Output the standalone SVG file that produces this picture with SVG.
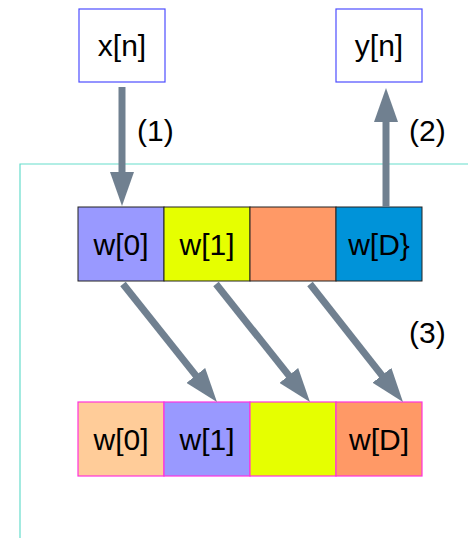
<svg xmlns="http://www.w3.org/2000/svg" width="468" height="538" viewBox="0 0 468 538">
<style>
text{font-family:"Liberation Sans",Arial,sans-serif;font-size:30px;fill:#000;}
.c{text-anchor:middle;}
.io{fill:#fff;stroke:#4d4dff;stroke-width:1.2;}
.top{stroke:#222;stroke-width:1;}
.bot{stroke:#ff33dd;stroke-width:1.2;}
.ar{stroke:#708090;stroke-width:7;fill:none;}
</style>
<defs>
<marker id="ah" markerUnits="userSpaceOnUse" markerWidth="34" markerHeight="24" refX="14" refY="12" viewBox="0 0 34 24" orient="auto">
<path d="M0,0 L34,12 L0,24 Z" fill="#708090"/>
</marker>
</defs>
<g id="frame"><path d="M20,538 V164 H468" fill="none" stroke="#66ddcc" stroke-width="1.2"/></g>
<g id="xn"><rect class="io" x="79" y="9" width="86" height="73"/><text class="c" x="122" y="56">x[n]</text></g>
<g id="yn"><rect class="io" x="336" y="9" width="86" height="73"/><text class="c" x="379" y="56">y[n]</text></g>
<g id="top">
<rect class="top" x="78" y="207" width="86" height="74" fill="#9999ff"/><text class="c" x="121" y="255">w[0]</text>
<rect class="top" x="164" y="207" width="86" height="74" fill="#e6ff00"/><text class="c" x="207" y="255">w[1]</text>
<rect class="top" x="250" y="207" width="86" height="74" fill="#ff9966"/>
<rect class="top" x="336" y="207" width="86" height="74" fill="#0093d9"/><text class="c" x="379" y="255">w[D}</text>
</g>
<g id="bottom">
<rect class="bot" x="78" y="402" width="86" height="74" fill="#ffcc99"/><text class="c" x="121" y="450">w[0]</text>
<rect class="bot" x="164" y="402" width="86" height="74" fill="#9999ff"/><text class="c" x="207" y="450">w[1]</text>
<rect class="bot" x="250" y="402" width="86" height="74" fill="#e6ff00"/>
<rect class="bot" x="336" y="402" width="86" height="74" fill="#ff9966"/><text class="c" x="379" y="450">w[D]</text>
</g>
<g id="connectors">
<line class="ar" x1="122" y1="87" x2="122" y2="186" marker-end="url(#ah)"/>
<line class="ar" x1="386" y1="207" x2="386" y2="108" marker-end="url(#ah)"/>
<line class="ar" x1="123" y1="284" x2="204.5" y2="386.4" marker-end="url(#ah)"/>
<line class="ar" x1="216" y1="284" x2="297.5" y2="386.4" marker-end="url(#ah)"/>
<line class="ar" x1="310" y1="284" x2="390.6" y2="386.3" marker-end="url(#ah)"/>
</g>
<g id="labels">
<text x="137" y="141">(1)</text>
<text x="409" y="141">(2)</text>
<text x="409" y="343">(3)</text>
</g>
</svg>
